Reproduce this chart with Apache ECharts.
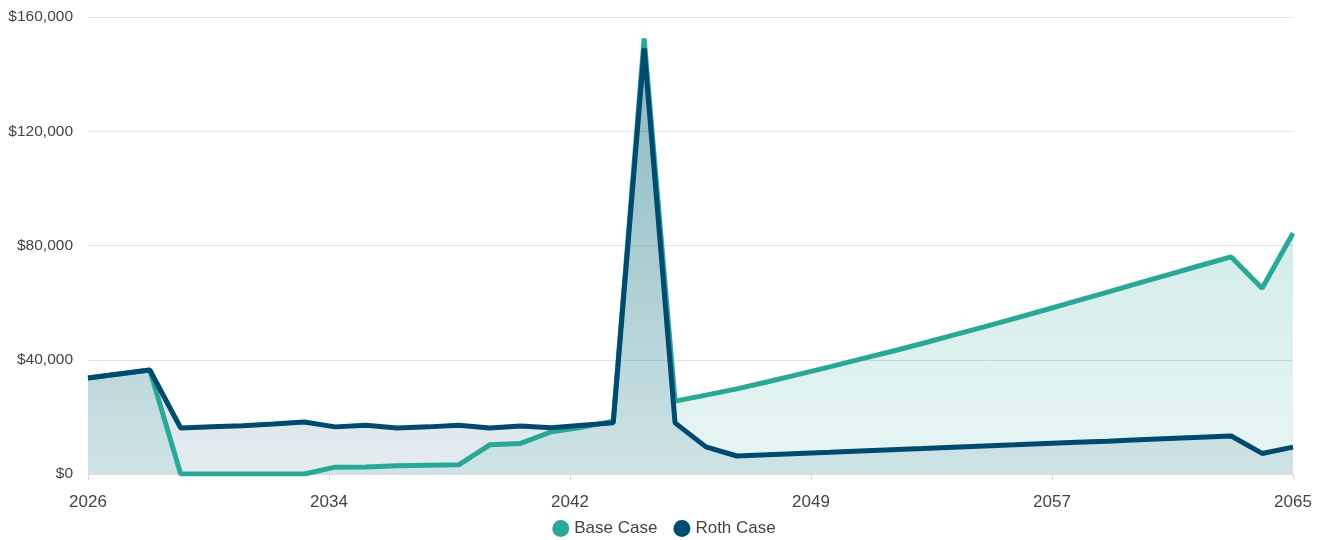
<!DOCTYPE html>
<html>
<head>
<meta charset="utf-8">
<title>Base Case vs Roth Case</title>
<script src="https://cdn.jsdelivr.net/npm/echarts@6/dist/echarts.min.js"></script>
<style>
	html, body {
		margin: 0;
		padding: 0;
		background: #fff;
	}
	#chart {
		width: 1328px;
		height: 540px;
	}
</style>
</head>
<body>
<div id="chart"></div>
<script>
	// years 2026 .. 2065
	var years = [];
	for (var y = 2026; y <= 2065; y++) years.push(y);

	var baseCase = [
		33600, 35000, 36400, 0, 0, 0, 0, 0, 2400, 2450,
		2900, 3050, 3200, 10200, 10700, 14800, 16400, 18500, 152500, 25500,
		27600, 29800, 32300, 34900, 37500, 40200, 42900, 45700, 48600, 51500,
		54500, 57500, 60600, 63700, 66800, 69900, 73000, 76000, 65000, 84300
	];
	var rothCase = [
		33600, 35000, 36400, 16100, 16500, 16900, 17500, 18200, 16500, 17100,
		16100, 16500, 17100, 16100, 16800, 16200, 17100, 17900, 149000, 17900,
		9500, 6300, 6750, 7200, 7600, 8050, 8500, 8900, 9350, 9800,
		10200, 10650, 11100, 11500, 11950, 12400, 12850, 13300, 7200, 9400
	];
	var seriesNames = ['Base Case', 'Roth Case'];

	function pairs(vals) {
		return years.map(function(yr, i) { return [yr, vals[i]]; });
	}

	function fade(r, g, b, top, bottom) {
		return new echarts.graphic.LinearGradient(0, 0, 0, 1, [
			{ offset: 0, color: 'rgba(' + r + ',' + g + ',' + b + ',' + top + ')' },
			{ offset: 1, color: 'rgba(' + r + ',' + g + ',' + b + ',' + bottom + ')' }
		]);
	}

	var chart = echarts.init(document.getElementById('chart'));
	chart.setOption({
		animation: false,
		textStyle: { fontFamily: 'Liberation Sans, Arial, sans-serif' },
		grid: { left: 88, right: 35, top: 17, bottom: 66 },
		legend: {
			data: seriesNames,
			bottom: 3,
			left: 'center',
			padding: 0,
			icon: 'circle',
			itemWidth: 17,
			itemHeight: 17,
			itemGap: 16,
			textStyle: { fontSize: 17, color: '#444' }
		},
		xAxis: {
			type: 'value',
			min: 2026,
			max: 2065,
			interval: 7.8,
			axisLine: { show: true, lineStyle: { color: '#d9d9d9', width: 1 } },
			axisTick: { show: true, length: 6, lineStyle: { color: '#d9d9d9' } },
			splitLine: { show: false },
			axisLabel: {
				fontSize: 17,
				color: '#444',
				margin: 20,
				formatter: function(v) { return String(Math.round(v)); }
			}
		},
		yAxis: {
			type: 'value',
			min: 0,
			max: 160000,
			interval: 40000,
			axisLine: { show: false },
			axisTick: { show: false },
			splitLine: { lineStyle: { color: '#e3e3e3', width: 1 } },
			axisLabel: {
				fontSize: 15.5,
				color: '#444',
				margin: 15,
				formatter: function(v) { return '$' + v.toLocaleString('en-US'); }
			}
		},
		series: [{
				name: seriesNames[0],
				type: 'line',
				data: pairs(baseCase),
				showSymbol: false,
				symbol: 'circle',
				itemStyle: { color: '#29a797' },
				lineStyle: { color: '#29a797', width: 5 },
				areaStyle: { color: fade(41, 167, 151, 0.4, 0.16) }
			},
			{
				name: seriesNames[1],
				type: 'line',
				data: pairs(rothCase),
				showSymbol: false,
				symbol: 'circle',
				itemStyle: { color: '#004a70' },
				lineStyle: { color: '#004a70', width: 5 },
				areaStyle: { color: fade(0, 74, 112, 0.42, 0.15) }
			}
		]
	});
</script>
</body>
</html>
